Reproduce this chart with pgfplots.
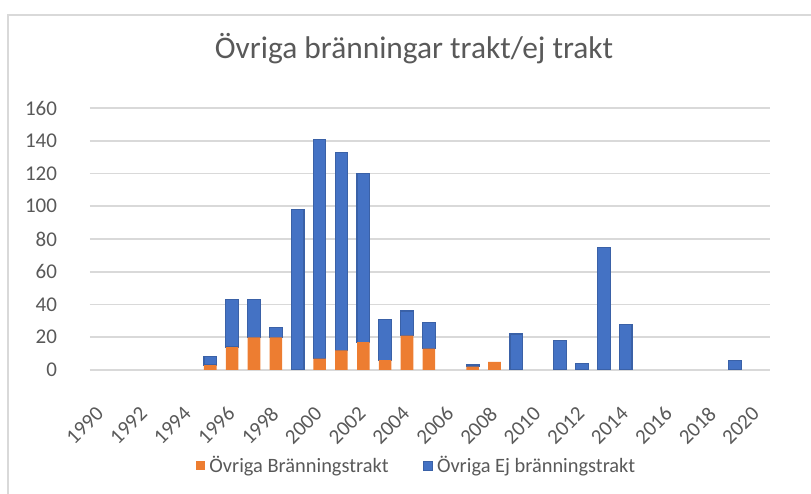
\documentclass[border=0pt]{standalone}
\usepackage{fontspec}
\setmainfont{Carlito}
\usepackage{pgfplots}
\usepackage{pgfplotstable}
\pgfplotsset{compat=1.18}
\definecolor{xlOrange}{HTML}{ED7D31}
\definecolor{xlBlue}{HTML}{4472C4}
\definecolor{xlText}{HTML}{595959}
\definecolor{xlGrid}{HTML}{D9D9D9}

% idx year  traktbränning  ej traktbränning
\pgfplotstableread{
idx year bt ej
0 1990 0 0
1 1991 0 0
2 1992 0 0
3 1993 0 0
4 1994 0 0
5 1995 3 5
6 1996 14 29
7 1997 20 23
8 1998 20 6
9 1999 0 98
10 2000 7 134
11 2001 12 121
12 2002 17 103
13 2003 6 25
14 2004 21 15
15 2005 13 16
16 2006 0 0
17 2007 2 1
18 2008 5 0
19 2009 0 22
20 2010 0 0
21 2011 0 18
22 2012 0 4
23 2013 0 75
24 2014 0 28
25 2015 0 0
26 2016 0 0
27 2017 0 0
28 2018 0 0
29 2019 0 6
30 2020 0 0
}\brdata

\begin{document}
\begin{tikzpicture}
\path[use as bounding box] (0,0) rectangle (405.5pt,247pt);
\draw[xlGrid,line width=1pt] (4pt,0) -- (4pt,239.5pt) -- (405.5pt,239.5pt);
\node[font=\fontsize{15.7}{18}\selectfont,text=xlText] at (207pt,222.5pt) {Övriga bränningar trakt/ej trakt};
\begin{axis}[
  at={(45pt,62pt)},anchor=south west,
  scale only axis,width=340pt,height=131pt,
  ybar stacked,bar width=6.3pt,
  xmin=-0.5,xmax=30.6,ymin=0,ymax=160,
  ytick={0,20,...,160},
  xtick={0,2,...,30},
  xticklabels={1990,1992,1994,1996,1998,2000,2002,2004,2006,2008,2010,2012,2014,2016,2018,2020},
  axis line style={draw=none},
  major tick length=0pt,
  ymajorgrids,major grid style={xlGrid,line width=0.8pt},
  tick label style={font=\fontsize{10.5}{12}\selectfont,text=xlText,/pgf/number format/assume math mode=true},
  yticklabel style={xshift=-13pt},
  xticklabel style={xshift=-3pt,yshift=-16pt,rotate=45,anchor=north east,inner sep=1pt},
  legend style={at={(0.482,-0.366)},anchor=center,draw=none,fill=none,
    font=\fontsize{10.2}{12}\selectfont,text=xlText,legend columns=-1,
    /tikz/every even column/.append style={column sep=15pt}},
  legend cell align=left,
  legend image code/.code={\fill[#1] (0pt,-2.3pt) rectangle (4.6pt,2.3pt);},
]
\addplot[fill=xlOrange,draw=none] table[x=idx,y=bt] {\brdata};
\addplot[fill=xlBlue,draw=xlBlue!85!black,line width=0.6pt] table[x=idx,y=ej] {\brdata};
\legend{Övriga Bränningstrakt,Övriga Ej bränningstrakt}
\end{axis}
\end{tikzpicture}
\end{document}
